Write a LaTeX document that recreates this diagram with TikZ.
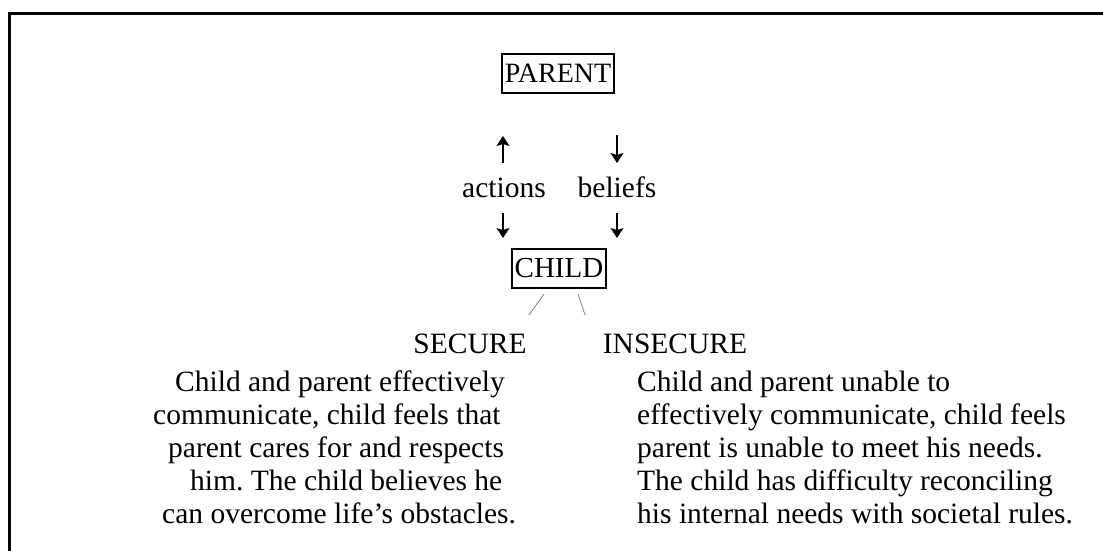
\documentclass[tikz,border=0pt]{standalone}
\usepackage{fontspec}
\setmainfont{Liberation Serif}
\usetikzlibrary{arrows.meta}
\frenchspacing
\begin{document}
\begin{tikzpicture}[x=1pt,y=-1pt,
  boxnode/.style={draw, line width=1.8pt, inner xsep=3pt, inner ysep=8pt,
    text height=20pt, text depth=3pt, font=\fontsize{29}{34}\selectfont, anchor=base},
  word/.style={font=\fontsize{29.5}{34}\selectfont, anchor=base, inner sep=0pt},
  body/.style={font=\fontsize{29.5}{33}\selectfont\frenchspacing, inner sep=0pt, align=left, anchor=base west},
  arr/.style={line width=1.1pt, -{Stealth[length=10pt,width=13pt,inset=2pt]}},
  link/.style={gray, line width=0.8pt}]
\useasboundingbox (0,0) rectangle (1103,551);
\draw[line width=3pt] (9,551) -- (9,14) -- (1103,14);

\node[boxnode, font=\fontsize{28}{34}\selectfont] (parent) at (558,82) {PARENT};
\node[word] (actions) at (504,197) {actions};
\node[word] (beliefs) at (617,197) {beliefs};
\node[boxnode] (child) at (559,277) {CHILD};
\node[word] (secure) at (470,353) {SECURE};
\node[word] (insecure) at (675,353) {INSECURE};

\coordinate (ua0) at (503,163);
\coordinate (ua1) at (503,136);
\coordinate (db0) at (617,135);
\coordinate (db1) at (617,163);
\coordinate (da0) at (503,213);
\coordinate (da1) at (503,238);
\coordinate (dc0) at (617,213);
\coordinate (dc1) at (617,238);
\draw[arr] (ua0) -- (ua1);
\draw[arr] (db0) -- (db1);
\draw[arr] (da0) -- (da1);
\draw[arr] (dc0) -- (dc1);

\coordinate (l0) at (544,294);
\coordinate (l1) at (529,315);
\coordinate (r0) at (578,294);
\coordinate (r1) at (585,315);
\draw[link] (l0) -- (l1);
\draw[link] (r0) -- (r1);

\node[body] (sectext) at (153,523)
  {\hspace*{22pt}Child and parent effectively\\communicate, child feels that\\\hspace*{15pt}parent cares for and respects\\\hspace*{37pt}him. The child believes he\\\hspace*{9pt}can overcome life's obstacles.};
\node[body] (insectext) at (637,523)
  {Child and parent unable to\\effectively communicate, child feels\\parent is unable to meet his needs.\\The child has difficulty reconciling\\his internal needs with societal rules.};
\end{tikzpicture}
\end{document}
